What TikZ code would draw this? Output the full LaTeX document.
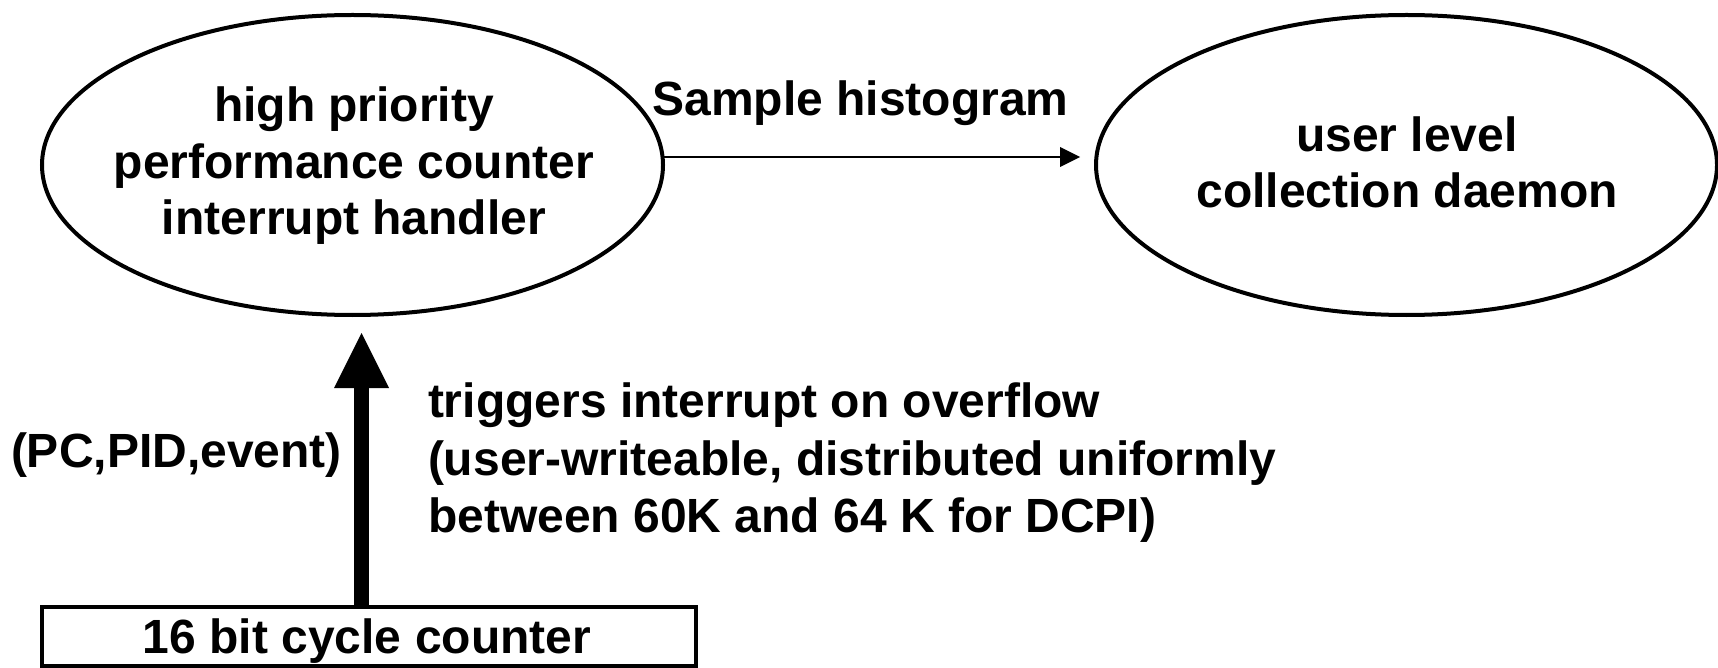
\documentclass[tikz,border=0pt]{standalone}
\usepackage{fontspec}
\setmainfont{Liberation Sans}
\usetikzlibrary{arrows.meta,shapes.geometric}
\begin{document}
\begin{tikzpicture}[x=0.5pt,y=-0.5pt,
  ell/.style={draw, ellipse, line width=2pt, minimum width=310.5pt, minimum height=150pt, inner sep=0pt, outer sep=0pt},
  lbl/.style={font=\fontsize{24}{28.25}\selectfont\bfseries, inner sep=0pt, outer sep=0pt},
  cntbox/.style={draw, rectangle, line width=2.2pt, minimum width=327pt, minimum height=29.5pt, inner sep=0pt, outer sep=0pt},
  thinarrow/.style={line width=0.75pt, -{Triangle[length=10pt,width=10pt,line width=0pt]}},
  thickarrow/.style={line width=7.5pt, -{Triangle[length=27.5pt,width=27.5pt,line width=0pt]}}]
\useasboundingbox (0,0) rectangle (1718,668);
\node[ell] (hp) at (352.5,165) {};
\node[ell] (ud) at (1406.5,165) {};
\node[lbl, align=center] (hpt) at (354,166) {high priority\\performance counter\\interrupt handler};
\node[lbl, align=center] (udt) at (1407,162.5) {user level\\collection daemon};
\node[lbl, anchor=base] (sh) at (860.5,116) {Sample histogram};
\node[cntbox] (cnt) at (369,636.5) {};
\node[lbl, anchor=base] (cntt) at (367,653) {16 bit cycle counter};
\node[lbl, anchor=base west] (pid) at (11,467) {(PC,PID,event)};
\node[lbl, align=left, anchor=west, font=\fontsize{24}{28.75}\selectfont\bfseries] (trg) at (428,463) {triggers interrupt on overflow\\(user-writeable, distributed uniformly\\between 60K and 64 K for DCPI)};
\coordinate (tip) at (361.5,333);
\draw[thickarrow] (cnt.north -| tip) -- (tip);
\coordinate (htip) at (1080,157);
\draw[thinarrow] (htip -| hp.east) -- (htip);
\end{tikzpicture}
\end{document}
